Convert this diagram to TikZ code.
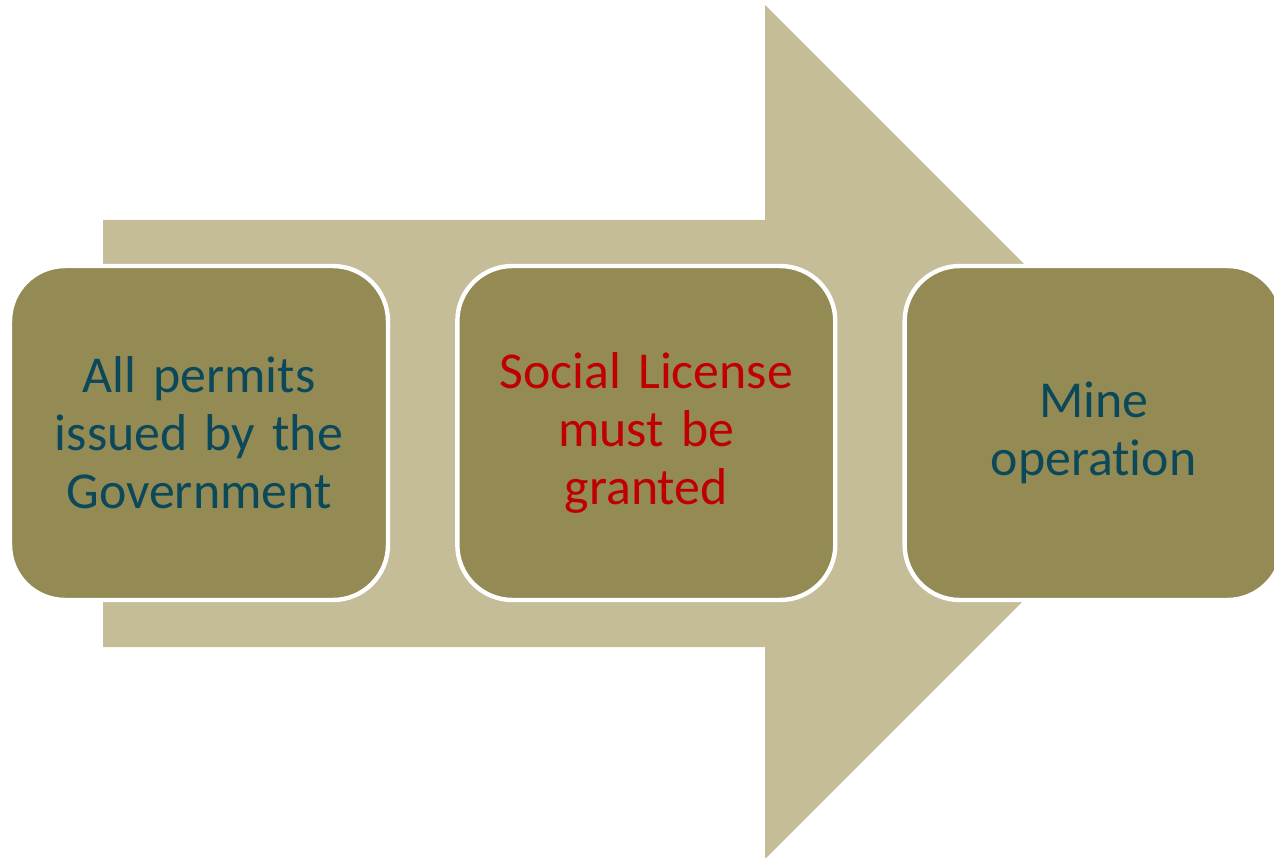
\documentclass[tikz,border=0pt]{standalone}
\usepackage{fontspec}
\setmainfont[RawFeature={-liga;-clig;-dlig;-rlig}]{Carlito}
\usepackage{tikz}
\usetikzlibrary{positioning}
\definecolor{arrowtan}{HTML}{C4BD97}
\definecolor{boxolive}{HTML}{948A54}
\definecolor{textteal}{HTML}{0B495A}
\definecolor{textred}{HTML}{C00000}

\begin{document}
\begin{tikzpicture}
[
	              x = 0.02cm,
	              y = -0.02cm,
	  node distance = 1.3cm,
	   stage/.style = { draw=white, line width=2.5pt, fill=boxolive, rounded corners=1.1cm,
	                    minimum width=7.56cm, minimum height=6.68cm, text width=6.9cm,
	                    align=center, text=textteal, font=\fontsize{29.5}{33}\selectfont },
	 warning/.style = { stage, text=textred }
]
	\clip (0,0) rectangle (1274,858);
	\fill [arrowtan] (103,220) -- (765,220) -- (765,5) -- (1192,432) -- (765,859) -- (765,647) -- (103,647) -- cycle;

	\node (10) at (199,433) [stage]         {All permits\\issued by the\\Government};
	\node (20) [warning, right=of 10]       {Social License\\must be\\granted};
	\node (30) [stage, right=of 20]         {Mine\\operation};

\end{tikzpicture}
\end{document}
